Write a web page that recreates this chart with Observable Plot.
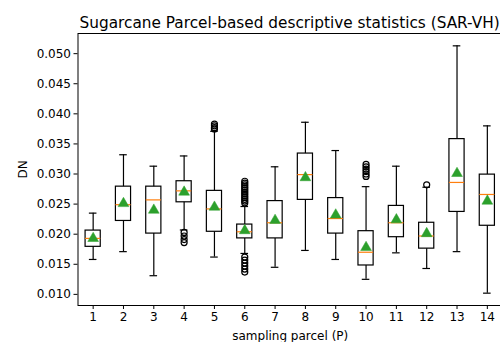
<!DOCTYPE html>
<html><head><meta charset="utf-8">
<script src="https://cdn.jsdelivr.net/npm/d3@7"></script>
<script src="https://cdn.jsdelivr.net/npm/@observablehq/plot@0.6"></script>
<style>body{margin:0;background:#fff;overflow:hidden}svg{overflow:hidden}</style>
</head><body><div id="chart"></div>
<script>
const parcels = [1,2,3,4,5,6,7,8,9,10,11,12,13,14];
const whiskerLow  = [0.0158,0.0171,0.0131,0.0207,0.0162,0.0168,0.0145,0.0173,0.0158,0.0125,0.0169,0.0143,0.0171,0.0102];
const q1          = [0.0179,0.0222,0.0201,0.0253,0.0204,0.0193,0.0193,0.0257,0.0201,0.0148,0.0195,0.0176,0.0237,0.0214];
const medians     = [0.0193,0.0249,0.0257,0.0272,0.0242,0.0204,0.0219,0.0299,0.0226,0.0170,0.0219,0.0197,0.0286,0.0266];
const q3          = [0.0206,0.0279,0.0279,0.0288,0.0272,0.0216,0.0255,0.0334,0.0260,0.0205,0.0247,0.0219,0.0358,0.0299];
const whiskerHigh = [0.0235,0.0332,0.0313,0.0330,0.0371,0.0246,0.0312,0.0386,0.0339,0.0279,0.0313,0.0278,0.0513,0.0380];
const means       = [0.0193,0.0251,0.0240,0.0270,0.0245,0.0206,0.0223,0.0294,0.0232,0.0178,0.0224,0.0201,0.0301,0.0255];
const outlierParcel = [4,4,4,4, 5,5,5,5, 6,6,6,6,6,6,6,6,6,6,6,6,6, 6,6,6,6,6,6, 10,10,10,10,10,10, 12];
const outlierValue  = [0.0203,0.0197,0.0191,0.0186, 0.0383,0.0380,0.0377,0.0375,
  0.0288,0.0285,0.0282,0.0279,0.0276,0.0273,0.0270,0.0267,0.0264,0.0261,0.0258,0.0255,0.0252,
  0.0162,0.0157,0.0152,0.0147,0.0142,0.0137,
  0.0316,0.0312,0.0308,0.0304,0.0300,0.0296, 0.0282];
const yTicks = [0.010,0.015,0.020,0.025,0.030,0.035,0.040,0.045,0.050];
const titleText = "Sugarcane Parcel-based descriptive statistics (SAR-VH)";

const boxes = parcels.map((p,i)=>({p, lo:whiskerLow[i], q1:q1[i], med:medians[i], q3:q3[i], hi:whiskerHigh[i], mean:means[i]}));
const outliers = outlierParcel.map((p,i)=>({p, v:outlierValue[i]}));

const chart = Plot.plot({
  width: 500, height: 342,
  marginLeft: 77.5, marginRight: -2, marginTop: 33, marginBottom: 37,
  style: {fontFamily: "DejaVu Sans", fontSize: "12px", color: "#000", background: "#fff"},
  x: {type: "linear", domain: [0.5, 14.5], ticks: parcels, tickFormat: d => String(d), label: null},
  y: {domain: [0.00815, 0.05335], ticks: yTicks, tickFormat: d3.format(".3f"), label: null},
  marks: [
    Plot.frame({stroke: "#000", strokeWidth: 1}),
    Plot.axisX({ticks: parcels, tickSize: 4, tickPadding: 3, tickFormat: d => String(d), label: "sampling parcel (P)", labelAnchor: "center", labelArrow: "none", labelOffset: 34, fontSize: 12}),
    Plot.axisY({ticks: yTicks, tickSize: 4, tickPadding: 3, tickFormat: d3.format(".3f"), label: "DN", labelAnchor: "center", labelArrow: "none", labelOffset: 60, fontSize: 12}),
    Plot.ruleX(boxes, {x: "p", y1: "lo", y2: "q1", stroke: "#000", strokeWidth: 1.2}),
    Plot.ruleX(boxes, {x: "p", y1: "q3", y2: "hi", stroke: "#000", strokeWidth: 1.2}),
    Plot.ruleY(boxes, {y: "lo", x1: d => d.p - 0.125, x2: d => d.p + 0.125, stroke: "#000", strokeWidth: 1.2}),
    Plot.ruleY(boxes, {y: "hi", x1: d => d.p - 0.125, x2: d => d.p + 0.125, stroke: "#000", strokeWidth: 1.2}),
    Plot.rect(boxes, {x1: d => d.p - 0.25, x2: d => d.p + 0.25, y1: "q1", y2: "q3", fill: "none", stroke: "#000", strokeWidth: 1.2}),
    Plot.ruleY(boxes, {y: "med", x1: d => d.p - 0.25, x2: d => d.p + 0.25, stroke: "#ff7f0e", strokeWidth: 1.2}),
    Plot.dot(outliers, {x: "p", y: "v", r: 3, stroke: "#000", strokeWidth: 1.2, fill: "none"}),
    Plot.dot(boxes, {x: "p", y: "mean", symbol: "triangle", r: 4, fill: "#2ca02c", stroke: "#2ca02c", strokeWidth: 0.5}),
    Plot.text([titleText], {text: d => d, frameAnchor: "top", lineAnchor: "bottom", dy: -6, x: () => 7.48, fontSize: 15.3, fill: "#000"})
  ]
});
document.getElementById("chart").appendChild(chart);
</script></body></html>
